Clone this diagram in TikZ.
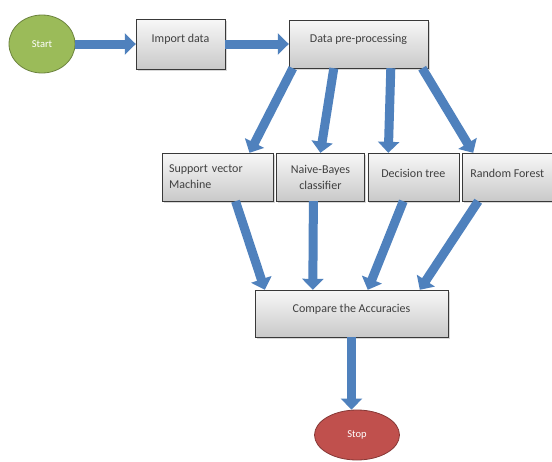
\documentclass[tikz,border=0pt]{standalone}
\usepackage{fontspec}
\setmainfont{Carlito}
\usetikzlibrary{arrows.meta,positioning,chains,calc,shapes.geometric,shadows}
\definecolor{arrowblue}{HTML}{4F81BD}
\definecolor{startgreen}{HTML}{9BBB59}
\definecolor{stopred}{HTML}{C0504D}
\edef\rowheight{48pt}
\tikzstyle{procbox}=[draw=gray!45!black, top color=gray!6, bottom color=gray!42, drop shadow={opacity=0.3,shadow xshift=1.5pt,shadow yshift=-1.5pt}, font=\fontsize{12}{16}\selectfont, text=black!75, inner sep=0pt]
\tikzstyle{rowbox}=[procbox, minimum height=\rowheight]
\tikzstyle{endnode}=[ellipse, draw, line width=0.8pt, text=white, font=\fontsize{10.5}{12}\selectfont]
\tikzstyle{flowarrow}=[draw=arrowblue, line width=9pt, -{Triangle[width=21pt,length=11pt]}]

\begin{document}
\begin{tikzpicture}[x=1pt,y=-1pt]
		\useasboundingbox[fill=white] (0,0) rectangle (552,461);
		\node[endnode, fill=startgreen, draw=startgreen!70!black, minimum width=66pt, minimum height=58pt] (start) at (42,44) {Start};
		\node[procbox, minimum width=89pt, minimum height=50pt, text depth=11pt] (import) at (180.5,44) {Import data};
		\node[procbox, minimum width=139pt, minimum height=48pt, text depth=11pt] (prep) at (358.5,44) {Data pre-processing};
		
		\begin{scope}[start chain=1 going right, node distance=3pt]
		\node [on chain=1, rowbox, text width=97pt, minimum width=111pt, align=left] (svm) at (217.5,177) {Support vector\\Machine};
		\node [on chain=1, rowbox, minimum width=88pt, align=center] (nb) {Naive-Bayes\\classifier};
		\node [on chain=1, rowbox, minimum width=91pt, text depth=7pt] (dt) {Decision tree};
		\node [on chain=1, rowbox, minimum width=90pt, text depth=7pt] (rf) {Random Forest};
		\end{scope}
		
		\node[procbox, minimum width=193pt, minimum height=47pt, text depth=11pt] (cmp) at (351.5,313.5) {Compare the Accuracies};
		\node[endnode, fill=stopred, draw=stopred!70!black, minimum width=85pt, minimum height=50pt] (stop) at (357,435) {Stop};
		
		\draw[flowarrow] (start.east) -- (import.west);
		\draw[flowarrow] (import.east) -- (import.east -| prep.west);
		\draw[flowarrow] ($(prep.south west)+(4,0)$) -- ($(svm.north)+(32,0)$);
		\draw[flowarrow] ($(prep.south west)+(45,0)$) -- (nb.north);
		\draw[flowarrow] ($(prep.south west)+(102,0)$) -- ($(dt.north)+(-25,0)$);
		\draw[flowarrow] ($(prep.south east)+(-6,0)$) -- ($(rf.north)+(-34,0)$);
		\draw[flowarrow] ($(svm.south)+(18,0)$) -- ($(cmp.north west)+(10,0)$);
		\draw[flowarrow] ($(nb.south)+(-7,0)$) -- ($(cmp.north west)+(58,0)$);
		\draw[flowarrow] ($(dt.south)+(-10,0)$) -- ($(cmp.north west)+(113,0)$);
		\draw[flowarrow] ($(rf.south)+(-29,0)$) -- ($(cmp.north west)+(165,0)$);
		\draw[flowarrow] (cmp.south) -- (cmp.south |- stop.north);
		\end{tikzpicture}
\end{document}
